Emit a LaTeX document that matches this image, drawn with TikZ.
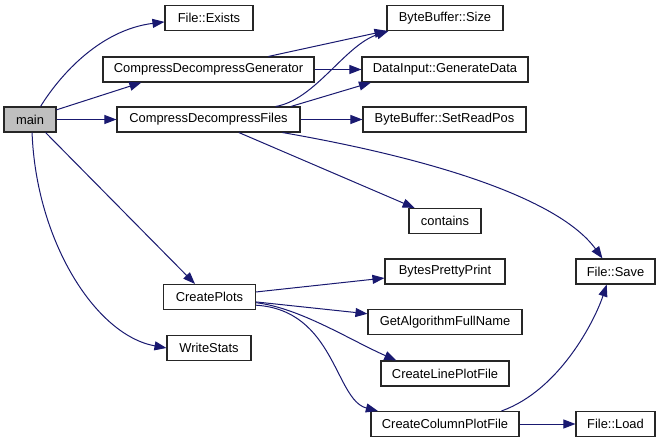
\documentclass[tikz,border=0pt]{standalone}
\usepackage{fontspec}
\setmainfont{Liberation Sans}
\usetikzlibrary{arrows.meta}
\definecolor{cgedge}{RGB}{25,25,112}
\tikzset{
    cg node/.style={draw=black!85, line width=1.1pt, fill=white,
                    minimum height=25pt, inner sep=0pt,
                    font=\fontsize{12.9}{14}\selectfont},
    cg root/.style={cg node, fill=black!25},
    cg call/.style={-{Triangle[length=12pt, width=9pt]}, cgedge,
                    line width=1pt},
}

\begin{document}
\begin{tikzpicture}[x=1pt, y=-1pt]
    \useasboundingbox (0,0) rectangle (661,443);
    % Caller
    \node[cg root, minimum width=52pt] (main) at (30,119.5) {main};
    % First level
    \node[cg node, minimum width=88pt]  (exists) at (209,18)    {File::Exists};
    \node[cg node, minimum width=211pt] (gen)    at (208.5,69.5) {CompressDecompressGenerator};
    \node[cg node, minimum width=183pt] (files)  at (208.5,119.5) {CompressDecompressFiles};
    \node[cg node, minimum width=92pt]  (plots)  at (209.5,297) {CreatePlots};
    \node[cg node, minimum width=84pt]  (stats)  at (209,348)   {WriteStats};
    % Second level
    \node[cg node, minimum width=116pt] (bsize)    at (445,18)    {ByteBuffer::Size};
    \node[cg node, minimum width=166pt] (gendata)  at (445,69.5)  {DataInput::GenerateData};
    \node[cg node, minimum width=163pt] (readpos)  at (444.5,119.5) {ByteBuffer::SetReadPos};
    \node[cg node, minimum width=72pt]  (contains) at (445,221)   {contains};
    \node[cg node, minimum width=120pt] (pretty)   at (445,271.5) {BytesPrettyPrint};
    \node[cg node, minimum width=154pt] (algname)  at (445,322)   {GetAlgorithmFullName};
    \node[cg node, minimum width=128pt] (lineplot) at (445,373.5) {CreateLinePlotFile};
    \node[cg node, minimum width=148pt] (colplot)  at (445,424)   {CreateColumnPlotFile};
    % Third level
    \node[cg node, minimum width=79pt] (save) at (615.5,271.5) {File::Save};
    \node[cg node, minimum width=79pt] (load) at (615.5,424)   {File::Load};

    % Calls from main
    \draw[cg call] (main.51) .. controls (60,75) and (100,30) .. (exists.185);
    \draw[cg call] (main.20) -- (gen.191);
    \draw[cg call] (main) -- (files);
    \draw[cg call] (main.-40) -- (plots.138);
    \draw[cg call] (main.-81) .. controls (36,240) and (95,335) .. (stats.west);
    % Calls from the generator and the file test
    \draw[cg call] (gen) -- (bsize);
    \draw[cg call] (gen) -- (gendata);
    \draw[cg call] (files.11) .. controls (315,100) and (345,45) .. (bsize.193);
    \draw[cg call] (files.9) -- (gendata.190);
    \draw[cg call] (files) -- (readpos);
    \draw[cg call] (files) -- (contains);
    \draw[cg call] (files.-10) .. controls (440,160) and (560,200) .. (save.135);
    % Calls from the plots
    \draw[cg call] (plots) -- (pretty);
    \draw[cg call] (plots) -- (algname);
    \draw[cg call] (plots.-7) .. controls (300,308) and (350,340) .. (lineplot.165);
    \draw[cg call] (plots.-10) .. controls (335,310) and (335,400) .. (colplot.169);
    \draw[cg call] (colplot.13) .. controls (560,390) and (595,320) .. (save.236);
    \draw[cg call] (colplot) -- (load);
\end{tikzpicture}
\end{document}
